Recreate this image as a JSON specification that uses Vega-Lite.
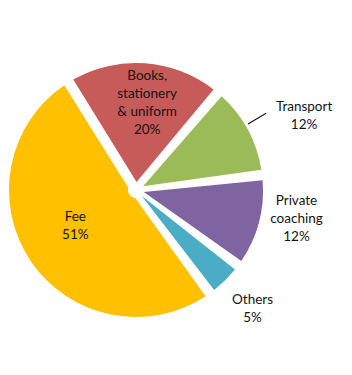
{
  "$schema": "https://vega.github.io/schema/vega-lite/v6.json",
  "width": 272,
  "height": 370,
  "autosize": {"type": "none"},
  "padding": {"left": 0, "top": 5, "right": 80, "bottom": 0},
  "background": "white",
  "config": {"view": {"stroke": null}, "text": {"font": "Lato", "fontSize": 13.5, "color": "#141414", "lineBreak": "\n", "lineHeight": 18}},
  "data": {"values": [
    {"category": "Books, stationery & uniform", "value": 20, "order": 1, "label": "Books,\nstationery\n& uniform\n20%"},
    {"category": "Transport", "value": 12, "order": 2, "label": "Transport\n12%"},
    {"category": "Private coaching", "value": 12, "order": 3, "label": "Private\ncoaching\n12%"},
    {"category": "Others", "value": 5, "order": 4, "label": "Others\n5%"},
    {"category": "Fee", "value": 51, "order": 5, "label": "Fee\n51%"}
  ]},
  "encoding": {
    "theta": {"field": "value", "type": "quantitative", "stack": true, "scale": {"range": [-0.5585, 5.7247]}},
    "order": {"field": "order", "type": "quantitative"}
  },
  "layer": [
    {
      "mark": {"type": "arc", "outerRadius": 127, "innerRadius": 8, "padAngle": 0.083},
      "encoding": {
        "color": {"field": "category", "type": "nominal", "legend": null,
          "scale": {"domain": ["Books, stationery & uniform", "Transport", "Private coaching", "Others", "Fee"],
                    "range": ["#C65B5A", "#9BBB59", "#8064A2", "#4BACC6", "#FFC000"]}}
      }
    },
    {
      "mark": {"type": "arc", "innerRadius": 130, "outerRadius": 151, "thetaOffset": -0.037, "padAngle": 0.6, "filled": false, "stroke": "#141414", "strokeWidth": 1.2},
      "encoding": {"opacity": {"condition": {"test": "datum.category === 'Transport'", "value": 1}, "value": 0}}
    },
    {
      "mark": {"type": "text", "radius": 88, "dx": 5, "dy": -26},
      "encoding": {"text": {"condition": {"test": "datum.category === 'Books, stationery & uniform'", "field": "label"}, "value": ""}}
    },
    {
      "mark": {"type": "text", "radius": 73, "dy": -14},
      "encoding": {"text": {"condition": {"test": "datum.category === 'Fee'", "field": "label"}, "value": ""}}
    },
    {
      "mark": {"type": "text", "radius": 182, "dx": 8, "dy": 4},
      "encoding": {"text": {"condition": {"test": "datum.category === 'Transport'", "field": "label"}, "value": ""}}
    },
    {
      "mark": {"type": "text", "radius": 166, "dy": -31},
      "encoding": {"text": {"condition": {"test": "datum.category === 'Private coaching'", "field": "label"}, "value": ""}}
    },
    {
      "mark": {"type": "text", "radius": 166, "dy": -8},
      "encoding": {"text": {"condition": {"test": "datum.category === 'Others'", "field": "label"}, "value": ""}}
    }
  ]
}
